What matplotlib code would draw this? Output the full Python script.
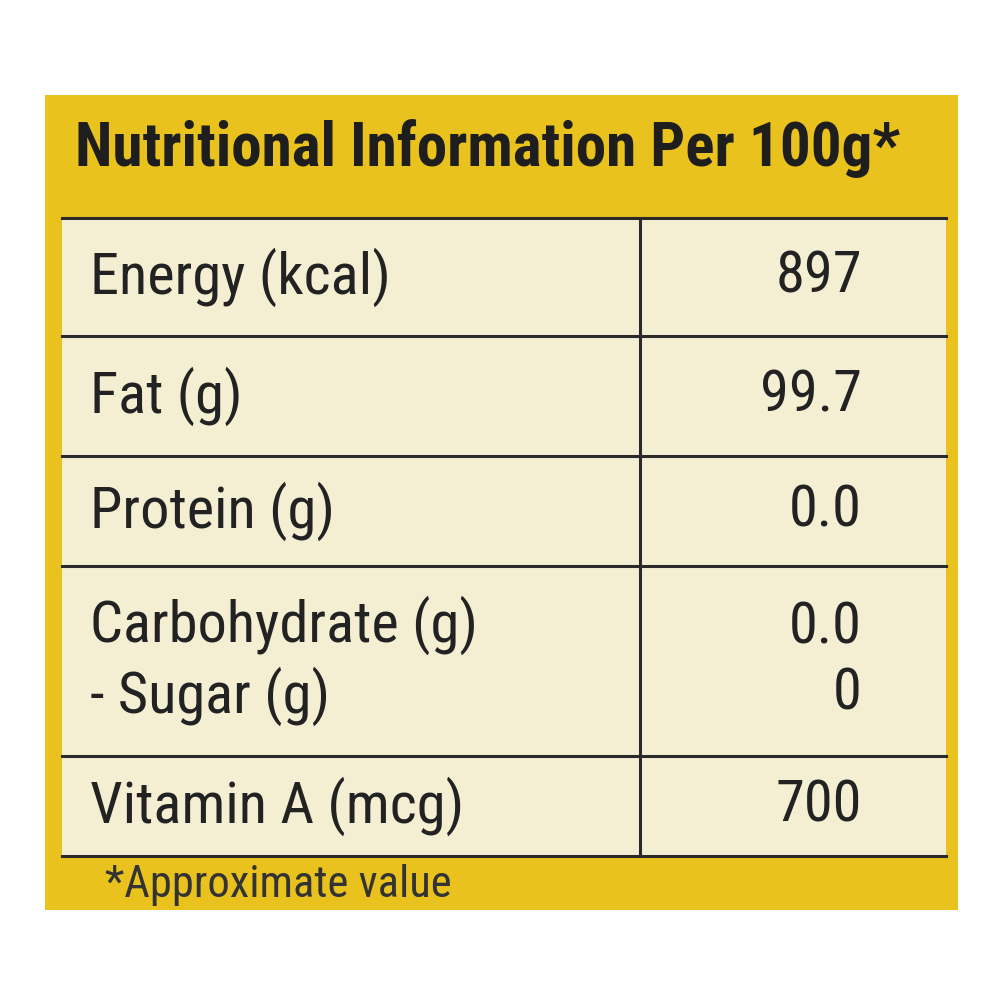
import matplotlib
matplotlib.use("Agg")
import matplotlib.pyplot as plt
from matplotlib.patches import Rectangle
from matplotlib import font_manager

title = "Nutritional Information Per 100g*"
nutrients = ["Energy (kcal)", "Fat (g)", "Protein (g)", "Carbohydrate (g)\n- Sugar (g)", "Vitamin A (mcg)"]
values = ["897", "99.7", "0.0", "0.0\n0", "700"]
footnote = "*Approximate value"
row_edges = [218, 336, 456, 566, 756, 856]

names = {f.name for f in font_manager.fontManager.ttflist}
fam = [n for n in ['Liberation Sans Narrow', 'DejaVu Sans Condensed', 'Roboto Condensed'] if n in names] + ['DejaVu Sans']
plt.rcParams['font.family'] = fam
plt.rcParams['font.stretch'] = 'condensed'
fig = plt.figure(figsize=(10, 10), dpi=100)
ax = fig.add_axes([0, 0, 1, 1])
ax.set_xlim(0, 1000); ax.set_ylim(1000, 0); ax.axis('off')
fig.patch.set_facecolor('white')

ax.add_patch(Rectangle((45, 95), 913, 815, facecolor='#E9C21E', edgecolor='none'))
ax.add_patch(Rectangle((62, row_edges[0]), 884, row_edges[-1]-row_edges[0], facecolor='#F4EED3', edgecolor='none'))
for y in row_edges:
    ax.plot([62, 946], [y, y], color='#2a2a2a', lw=2.2)
ax.plot([640, 640], [row_edges[0], row_edges[-1]], color='#2a2a2a', lw=2.2)

tfs = 44 if fam[0] != 'DejaVu Sans' else 31
bfs = 42 if fam[0] != 'DejaVu Sans' else 34
ax.text(75, 148, title, fontsize=tfs, fontweight='bold', color='#1e1e1e', va='center', ha='left')
for i, (n, v) in enumerate(zip(nutrients, values)):
    yc = (row_edges[i] + row_edges[i+1]) / 2
    ax.text(90, yc, n, fontsize=bfs, color='#222222', va='center', ha='left', linespacing=1.25)
    ax.text(862, yc, v, fontsize=bfs, color='#222222', va='center', ha='right', linespacing=1.25)
ax.text(105, 885, footnote, fontsize=32, color='#333333', va='center', ha='left')

fig.savefig("out.png", dpi=100, facecolor='white')
